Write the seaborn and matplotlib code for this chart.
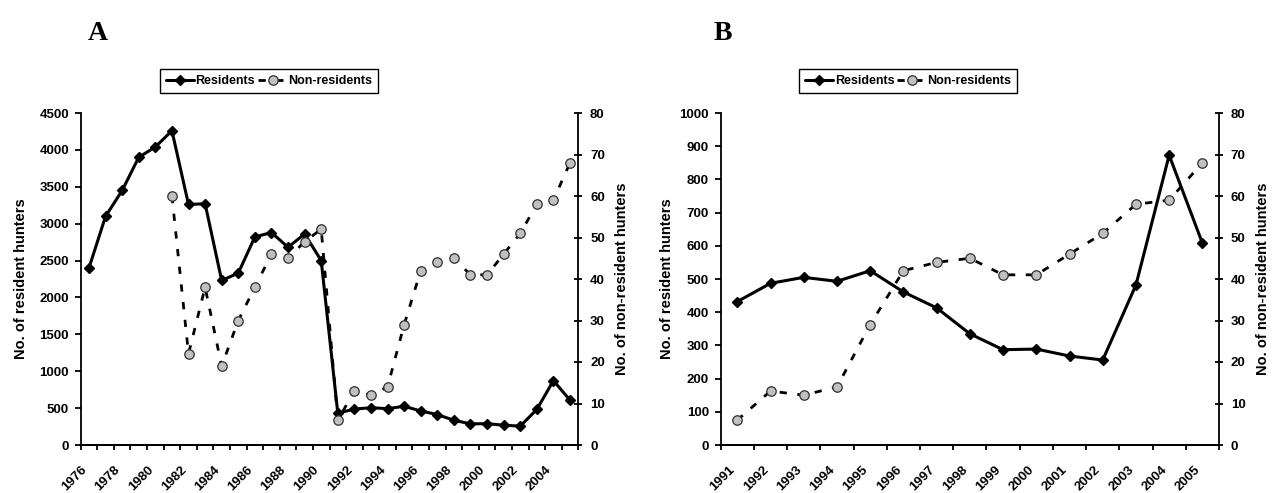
import numpy as np
import pandas as pd
import matplotlib
matplotlib.use("Agg")
import matplotlib.pyplot as plt
import matplotlib.transforms as mtransforms
import seaborn as sns

# ---------------- data ----------------
years_a = list(range(1976, 2006))
residents_a = [2400, 3100, 3450, 3900, 4040, 4260, 3260, 3270, 2230, 2330,
               2820, 2880, 2680, 2860, 2500, 432, 487, 505, 493, 525,
               461, 413, 335, 287, 289, 268, 256, 482, 873, 608]
years_a_nonres = list(range(1981, 2006))
nonres_a = [60, 22, 38, 19, 30, 38, 46, 45, 49, 52,
            6, 13, 12, 14, 29, 42, 44, 45, 41, 41, 46, 51, 58, 59, 68]

years_b = list(range(1991, 2006))
residents_b = [432, 487, 505, 493, 525, 461, 413, 335, 287, 289, 268, 256, 482, 873, 608]
nonres_b = [6, 13, 12, 14, 29, 42, 44, 45, 41, 41, 46, 51, 58, 59, 68]

panel_labels = ["A", "B"]
series_labels = ["Residents", "Non-residents"]
left_label = "No. of resident hunters"
right_label = "No. of non-resident hunters"

# ---------------- style ----------------
sns.set_theme(style="ticks")
plt.rcParams["font.family"] = ["Liberation Sans", "DejaVu Sans"]
plt.rcParams["font.weight"] = "bold"
plt.rcParams["axes.linewidth"] = 1.3
for k in ("text.color", "axes.labelcolor", "xtick.color", "ytick.color", "axes.edgecolor"):
    plt.rcParams[k] = "black"

W, H = 1277, 493
fig = plt.figure(figsize=(W / 100, H / 100), dpi=100)

def px(x0, y0, x1, y1):
    return [x0 / W, 1 - y1 / H, (x1 - x0) / W, (y1 - y0) / H]

res_kw = dict(color="black", linewidth=2.2, marker="D", markersize=4.8,
              markerfacecolor="black", markeredgecolor="black", markeredgewidth=1)
non_kw = dict(color="black", linewidth=2.0, linestyle=(0, (2.6, 3.8)),
              marker="o", markersize=6.8, markerfacecolor="#c0c0c0",
              markeredgecolor="#303030", markeredgewidth=0.9)

tick_font = dict(fontsize=9.5, fontweight="bold", color="black")

def build(rect, years, res, yrs_non, non, ymax, ystep, label_step, letter, letter_x,
          legend_x, ylab_x):
    ax = fig.add_axes(rect)
    ax2 = ax.twinx()
    sns.lineplot(x=years, y=res, ax=ax, **res_kw)
    sns.lineplot(x=yrs_non, y=non, ax=ax2, **non_kw)
    ax.set_xlim(years[0] - 0.5, years[-1] + 0.5)
    ax.set_ylim(0, ymax)
    ax2.set_ylim(0, 80)
    ax.set_yticks(np.arange(0, ymax + 1, ystep))
    ax2.set_yticks(np.arange(0, 81, 10))
    ax.set_yticklabels([str(int(v)) for v in np.arange(0, ymax + 1, ystep)], **tick_font)
    ax2.set_yticklabels([str(int(v)) for v in np.arange(0, 81, 10)], **tick_font)
    # category ticks at boundaries, labels at centers
    ax.set_xticks(np.arange(years[0] - 0.5, years[-1] + 0.51, 1.0), minor=True)
    lab_years = years[::label_step]
    ax.set_xticks(lab_years)
    ax.set_xticklabels([str(y) for y in lab_years], rotation=45, ha="right",
                       va="center", rotation_mode="anchor", **tick_font)
    ax.tick_params(axis="x", which="major", length=0, pad=16.5)
    ax.tick_params(axis="x", which="minor", length=3.5, width=1.3, direction="out", color="black")
    ax.tick_params(axis="y", length=4.5, width=1.3, direction="out", color="black", pad=4)
    ax2.tick_params(axis="y", length=6, width=1.3, direction="inout", color="black", pad=5.5)
    off = mtransforms.ScaledTranslation(-4 / 100, 0, fig.dpi_scale_trans)
    for t in ax.get_xticklabels():
        t.set_transform(t.get_transform() + off)
    for a in (ax, ax2):
        a.spines["top"].set_visible(False)
        a.set_xlabel("")
        for s in a.spines.values():
            s.set_color("black")
            s.set_linewidth(1.3)
    ax2.spines["left"].set_visible(False)
    ax.spines["right"].set_visible(False)
    ax.set_ylabel(left_label, fontsize=10.5, fontweight="bold", va="center", color="black")
    ax.yaxis.set_label_coords(ylab_x, 0.5)
    ax2.set_ylabel(right_label, fontsize=10.5, fontweight="bold", va="center", rotation=90,
                   color="black")
    ax2.yaxis.set_label_coords(1.088, 0.5)
    ax2.set_zorder(ax.get_zorder() + 1)
    ax2.patch.set_visible(False)
    # legend
    h = [ax.lines[0], ax2.lines[0]]
    leg = fig.legend(h, series_labels, loc="center", bbox_to_anchor=(legend_x / W, 1 - 81 / H),
                     ncol=2, frameon=True, fancybox=False, edgecolor="black", framealpha=1,
                     handlelength=2.3, handletextpad=0.1, columnspacing=0.25,
                     borderpad=0.45, borderaxespad=0,
                     prop=dict(size=9, weight="bold"))
    leg.get_frame().set_linewidth(1.0)
    for t in leg.get_texts():
        t.set_color("black")
    fig.text(letter_x / W, 1 - 33 / H, letter, ha="center", va="center", color="black",
             fontsize=20, fontweight="bold", family=["Liberation Serif", "DejaVu Serif"])
    return ax, ax2

build(px(80.7, 113, 578.3, 445), years_a, residents_a, years_a_nonres, nonres_a,
      4500, 500, 2, panel_labels[0], 98, 269, -0.12)
build(px(720.7, 113, 1219, 445), years_b, residents_b, years_b, nonres_b,
      1000, 100, 1, panel_labels[1], 723, 908, -0.108)

fig.savefig("out.png", dpi=100, facecolor="white")
